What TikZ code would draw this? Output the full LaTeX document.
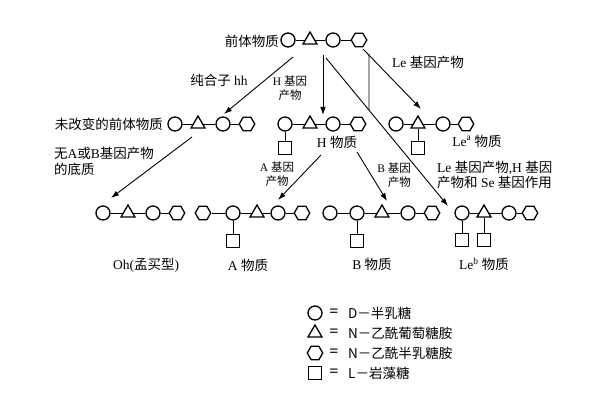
\documentclass[tikz,border=0pt]{standalone}
\usepackage{fontspec}
\setmainfont{Liberation Serif}
\newfontfamily\zhf{Noto Sans CJK SC}
\newcommand\zh[1]{{\zhf #1}}
\usetikzlibrary{arrows.meta,shapes.geometric,calc}
\begin{document}
\begin{tikzpicture}[x=1pt,y=-1pt,
 gc/.style={circle,draw,line width=1.3pt,minimum size=14pt,inner sep=0pt},
 gt/.style={isosceles triangle,shape border rotate=90,isosceles triangle stretches,draw,line width=1.3pt,minimum width=14pt,minimum height=12pt,inner sep=0pt},
 gh/.style={regular polygon,regular polygon sides=6,draw,line width=1.3pt,minimum size=15.5pt,inner sep=0pt},
 gs/.style={rectangle,draw,line width=1.3pt,minimum size=12.5pt,inner sep=0pt},
 lk/.style={line width=0.9pt},
 arr/.style={line width=0.9pt,-{Latex[length=8pt,width=5.5pt]}},
 lab/.style={font=\fontsize{13.5}{15.5}\selectfont,inner sep=0pt},
 slab/.style={font=\fontsize{11.5}{14}\selectfont,inner sep=0pt,align=center}
]
\fill[white] (0,0) rectangle (599,419);
\useasboundingbox (0,0) rectangle (599,419);

% top chain
\node[gc] (T1) at (288,40) {};
\node[gt] (T2) at (310,40) {};
\node[gc] (T3) at (333,40) {};
\node[gh] (T4) at (359,40) {};
\draw[lk] (T1)--(T2)--(T3)--(T4);
\node[lab,anchor=east] (ltop) at (279,41) {\zh{前体物质}};

% unchanged chain
\node[gc] (U1) at (175,124) {};
\node[gt] (U2) at (198,124) {};
\node[gc] (U3) at (223,124) {};
\node[gh] (U4) at (247,124) {};
\draw[lk] (U1)--(U2)--(U3)--(U4);
\node[lab,anchor=east] (lU) at (163,124) {\zh{未改变的前体物质}};

% H chain
\node[gc] (H1) at (285,124) {};
\node[gt] (H2) at (310,124) {};
\node[gc] (H3) at (333,124) {};
\node[gh] (H4) at (358,124) {};
\node[gs] (Hs) at (285,148) {};
\draw[lk] (H1)--(H2)--(H3)--(H4);
\draw[lk] (H1)--(Hs);
\node[lab] (lH) at (337,142) {H \zh{物质}};

% Le a chain
\node[gc] (L1) at (396,124) {};
\node[gt] (L2) at (418,124) {};
\node[gc] (L3) at (443,124) {};
\node[gh] (L4) at (466,124) {};
\node[gs] (Ls) at (418,148) {};
\draw[lk] (L1)--(L2)--(L3)--(L4);
\draw[lk] (L2)--(Ls);
\node[lab] (lLa) at (477,141) {Le\textsuperscript{a} \zh{物质}};

% Oh chain
\node[gc] (O1) at (103,213) {};
\node[gt] (O2) at (128,213) {};
\node[gc] (O3) at (153,213) {};
\node[gh] (O4) at (177,213) {};
\draw[lk] (O1)--(O2)--(O3)--(O4);
\node[lab] (lOh) at (146,265) {Oh(\zh{孟买型})};

% A chain
\node[gh] (A0) at (203,213) {};
\node[gc] (A1) at (233,213) {};
\node[gt] (A2) at (257,213) {};
\node[gc] (A3) at (278,213) {};
\node[gh] (A4) at (302,213) {};
\node[gs] (As) at (233,241) {};
\draw[lk] (A0)--(A1)--(A2)--(A3)--(A4);
\draw[lk] (A1)--(As);
\node[lab] (lA) at (248,265) {A \zh{物质}};

% B chain
\node[gc] (B0) at (330,213) {};
\node[gc] (B1) at (357,213) {};
\node[gt] (B2) at (382,213) {};
\node[gc] (B3) at (408,213) {};
\node[gh] (B4) at (432,213) {};
\node[gs] (Bs) at (357,241) {};
\draw[lk] (B0)--(B1)--(B2)--(B3)--(B4);
\draw[lk] (B1)--(Bs);
\node[lab] (lB) at (372,264) {B \zh{物质}};

% Le b chain
\node[gc] (E1) at (462,213) {};
\node[gt] (E2) at (484,213) {};
\node[gc] (E3) at (509,213) {};
\node[gh] (E4) at (530,213) {};
\node[gs] (Es1) at (462,240) {};
\node[gs] (Es2) at (484,240) {};
\draw[lk] (E1)--(E2)--(E3)--(E4);
\draw[lk] (E1)--(Es1);
\draw[lk] (E2)--(Es2);
\node[lab] (lLb) at (484,264) {Le\textsuperscript{b} \zh{物质}};

% arrows
\coordinate (sA) at (293,57);
\coordinate (tA) at (224,114);
\draw[arr] (sA) -- (tA);
\node[lab] (lhh) at (219,80) {\zh{纯合子} hh};

\coordinate (sB) at (323,55);
\coordinate (tB) at (323,115);
\draw[arr] (sB) -- (tB);
\node[slab] (lHg) at (290,88) {H \zh{基因}\\\zh{产物}};

\coordinate (sC) at (326,58);
\coordinate (tC) at (448,206);
\draw[arr] (sC) -- (tC);
\coordinate (sD) at (369,54);
\coordinate (mD) at ($(sC)!0.3525!(tC)$);
\draw[lk] (sD) -- (mD);

\coordinate (sE) at (363,49);
\coordinate (tE) at (421,109);
\draw[arr] (sE) -- (tE);
\node[lab,anchor=west] (lLe) at (392,62) {Le \zh{基因产物}};

\coordinate (sF) at (192,137);
\coordinate (tF) at (111,198);
\draw[arr] (sF) -- (tF);
\node[lab,anchor=north west,align=left] (lno) at (54,147) {\zh{无}A\zh{或}B\zh{基因产物}\\\zh{的底质}};

\coordinate (sG) at (321,155);
\coordinate (tG) at (278,200);
\draw[arr] (sG) -- (tG);
\node[slab] (lAg) at (277,174) {A \zh{基因}\\\zh{产物}};

\coordinate (sH) at (357,152);
\coordinate (tH) at (387,201);
\draw[arr] (sH) -- (tH);
\node[slab,align=right,anchor=east] (lBg) at (411,175) {B \zh{基因}\\\zh{产物}};

\node[lab,anchor=west,align=left] (lLeH) at (437,175) {Le \zh{基因产物},H \zh{基因}\\\zh{产物和} Se \zh{基因作用}};

% legend
\node[gc] (K1) at (315,313) {};
\node[gt] (K2) at (315,333) {};
\node[gh] (K3) at (315,353) {};
\node[gs] (K4) at (315,373) {};
\foreach \i/\yy in {1/313,2/333,3/353,4/373}
  \node[font=\fontsize{16}{16}\bfseries,inner sep=0pt] (Q\i) at (334,\yy) {=};
\node[lab,anchor=west] (D1) at (348,313) {\zh{D－半乳糖}};
\node[lab,anchor=west] (D2) at (348,333) {\zh{N－乙酰葡萄糖胺}};
\node[lab,anchor=west] (D3) at (348,353) {\zh{N－乙酰半乳糖胺}};
\node[lab,anchor=west] (D4) at (348,373) {\zh{L－岩藻糖}};
\end{tikzpicture}
\end{document}
